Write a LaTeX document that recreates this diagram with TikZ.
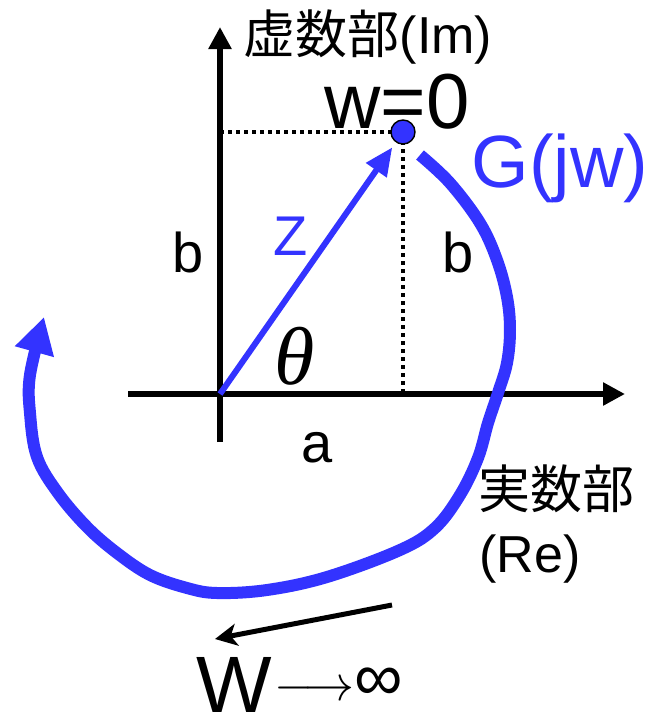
\RequirePackage{fix-cm}
\documentclass[tikz,border=0pt]{standalone}
\usepackage{fontspec}
\setmainfont{Liberation Sans}
\newfontfamily\cjk{Noto Sans CJK JP}
\newfontfamily\serif{Liberation Serif}
\usetikzlibrary{arrows.meta}
\definecolor{gblue}{RGB}{51,51,255}
\tikzset{
  axis/.style={line width=3pt,-{Triangle[length=11pt,width=11pt]}},
  guide/.style={line width=2pt,dash pattern=on 2pt off 2pt},
  lbl/.style={inner sep=0pt,anchor=base},
}
\newcommand{\fs}[1]{\fontsize{#1}{#1}\selectfont}
\begin{document}
\begin{tikzpicture}[x=0.5pt,y=-0.5pt]
        \useasboundingbox (0,0) rectangle (655,719);
        \coordinate (O) at (220,394);
        \coordinate (xl) at (128,394);
        \coordinate (xr) at (625,394);
        \coordinate (yb) at (220,442);
        \coordinate (yt) at (220,27);
        \coordinate (P) at (403,132);
        \coordinate (Pa) at (220,132);
        \coordinate (Pb) at (403,394);
        \draw[axis] (xl) -- (xr);
        \draw[axis] (yb) -- (yt);
        \draw[guide] (Pa) -- (P) -- (Pb);
        \node[circle,fill=gblue,draw,line width=0.7pt,minimum size=12pt,inner sep=0pt] (w0) at (P) {};
        \draw[gblue,line width=3pt,shorten >=3pt,-{Triangle[length=14pt,width=12pt]}] (O) -- (w0);
        \draw[gblue,line width=6pt,-{Triangle[length=18pt,width=19pt]}] plot[smooth,tension=0.6] coordinates {(420,155) (450,183) (480,223) (497,260) (507,297) (510,330) (507,363) (498,393) (488,423) (478,458) (460,495) (435,528) (400,550) (327,577) (267,590) (217,593) (187,588) (150,575) (117,553) (87,527) (58,493) (37,457) (30,413) (30,375) (44,317)};
        \coordinate (ws) at (392,605);
        \coordinate (we) at (215,639);
        \draw[line width=2.5pt,-{Stealth[length=11pt,width=11pt,inset=3pt]}] (ws) -- (we);
        \node[lbl,font=\fs{26}] (im) at (368,53) {{\cjk 虚数部}(Im)};
        \node[lbl,font=\fs{39}] (wlab) at (397,128) {w=0};
        \node[lbl,font=\fs{37},text=gblue] (glab) at (560,187) {G(jw)};
        \node[lbl,font=\fs{28}] (bl) at (188,272) {b};
        \node[lbl,font=\fs{28}] (br) at (458,272) {b};
        \node[lbl,font=\fs{28},text=gblue] (zlab) at (291,255) {Z};
        \node[lbl,font=\fs{41}] (th) at (295,384) {\serif\itshape θ};
        \node[lbl,font=\fs{28}] (alab) at (317,462) {a};
        \node[lbl,font=\fs{26}] (re1) at (556,508) {\cjk 実数部};
        \node[lbl,font=\fs{26}] (re2) at (530,572) {(Re)};
        \node[lbl,font=\fs{40},anchor=base east] (wi) at (272,712) {W};
        \node[lbl,font=\fs{25},anchor=base west] (inf) at (274,700) {$\longrightarrow$\fs{34}∞};
\end{tikzpicture}
\end{document}
